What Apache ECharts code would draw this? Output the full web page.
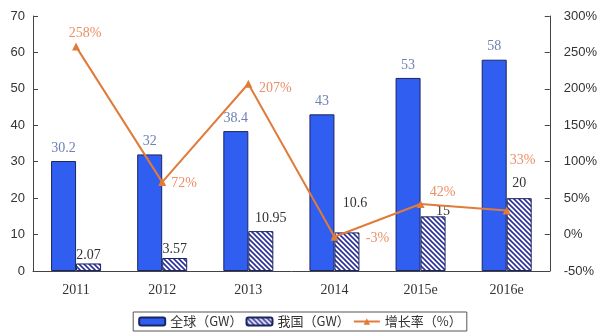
<!DOCTYPE html>
<html>
<head>
<meta charset="utf-8">
<script src="https://cdn.jsdelivr.net/npm/echarts@6/dist/echarts.min.js"></script>
<style>
  html, body { margin: 0; padding: 0; background: #fff; }
  #chart { width: 600px; height: 335px; }
</style>
</head>
<body>
<div id="chart"></div>
<script>
// Annual PV installations: world vs. China, with China's growth rate
const years = ['2011', '2012', '2013', '2014', '2015e', '2016e'];
const globalGW = [30.2, 32, 38.4, 43, 53, 58];
const chinaGW = [2.07, 3.57, 10.95, 10.6, 15, 20];
const growthPct = [258, 72, 207, -3, 42, 33];
const leftTicks = { min: 0, max: 70, interval: 10 };
const rightTicks = { min: -50, max: 300, interval: 50 };

// label placement tweaks for the growth-rate labels
const growthLabelOffset = [[9, 2], [22, 16], [27, 20], [43, 17], [22, 3], [16, -35]];
const chinaLabelOffset = [[0, 3], [0, 2], [10, -2], [8, -18], [10, 6], [0, -4]];

// diagonal hatch fill for the China series
function hatch() {
  const c = document.createElement('canvas');
  c.width = 5; c.height = 5;
  const g = c.getContext('2d');
  g.fillStyle = '#ffffff';
  g.fillRect(0, 0, 5, 5);
  g.strokeStyle = '#2a2f9a';
  g.lineWidth = 1.6;
  g.beginPath();
  g.moveTo(-1, -1); g.lineTo(6, 6);
  g.moveTo(-1, 4); g.lineTo(1, 6);
  g.moveTo(4, -1); g.lineTo(6, 1);
  g.stroke();
  return c;
}

const chart = echarts.init(document.getElementById('chart'), null, { renderer: 'canvas' });
const serif = 'Liberation Serif';
const sans = 'Liberation Sans';

chart.setOption({
  animation: false,
  grid: { left: 33, right: 50, top: 16, bottom: 64 },
  legend: {
    bottom: 4,
    left: 'center',
    itemGap: 3,
    itemWidth: 26,
    itemHeight: 8,
    borderColor: '#555',
    borderWidth: 1,
    padding: [3, 5],
    textStyle: { fontFamily: 'Noto Sans CJK SC', fontSize: 13, color: '#333' },
    data: ['全球（GW）', '我国（GW）', '增长率（%）']
  },
  xAxis: {
    type: 'category',
    data: years,
    axisLine: { lineStyle: { color: '#444', width: 1 } },
    axisTick: { inside: true, length: 6, lineStyle: { color: '#444' } },
    axisLabel: { fontFamily: serif, fontSize: 14, color: '#333', margin: 12 }
  },
  yAxis: [
    {
      type: 'value',
      min: leftTicks.min, max: leftTicks.max, interval: leftTicks.interval,
      splitLine: { show: false },
      axisLine: { show: true, lineStyle: { color: '#444' } },
      axisTick: { show: true, inside: true, length: 5, lineStyle: { color: '#444' } },
      axisLabel: { fontFamily: sans, fontSize: 13, color: '#333', margin: 8 }
    },
    {
      type: 'value',
      min: rightTicks.min, max: rightTicks.max, interval: rightTicks.interval,
      splitLine: { show: false },
      axisLine: { show: true, lineStyle: { color: '#444' } },
      axisTick: { show: true, inside: true, length: 5, lineStyle: { color: '#444' } },
      axisLabel: { fontFamily: sans, fontSize: 13, color: '#333', margin: 14, formatter: '{value}%' }
    }
  ],
  series: [
    {
      name: '全球（GW）',
      type: 'bar',
      data: globalGW,
      barWidth: 25,
      barGap: '0%',
      itemStyle: { color: '#2f5ef0', borderColor: '#1b2560', borderWidth: 1 },
      label: {
        show: true, position: 'top', distance: 6,
        fontFamily: serif, fontSize: 14, color: '#6f80b5'
      }
    },
    {
      name: '我国（GW）',
      type: 'bar',
      data: chinaGW.map((v, i) => ({
        value: v,
        label: { offset: chinaLabelOffset[i] }
      })),
      barWidth: 25,
      itemStyle: { color: { image: hatch(), repeat: 'repeat' }, borderColor: '#1b2560', borderWidth: 1 },
      label: {
        show: true, position: 'top', distance: 4,
        fontFamily: serif, fontSize: 14, color: '#333'
      }
    },
    {
      name: '增长率（%）',
      type: 'line',
      yAxisIndex: 1,
      data: growthPct.map((v, i) => ({
        value: v,
        label: { offset: growthLabelOffset[i] }
      })),
      symbol: 'triangle',
      symbolSize: 8,
      lineStyle: { color: '#e07b3a', width: 2 },
      itemStyle: { color: '#e07b3a' },
      label: {
        show: true, position: 'top', distance: 4,
        fontFamily: serif, fontSize: 14, color: '#eb8f68',
        formatter: p => p.value + '%'
      },
      z: 5
    }
  ]
});
</script>
</body>
</html>
